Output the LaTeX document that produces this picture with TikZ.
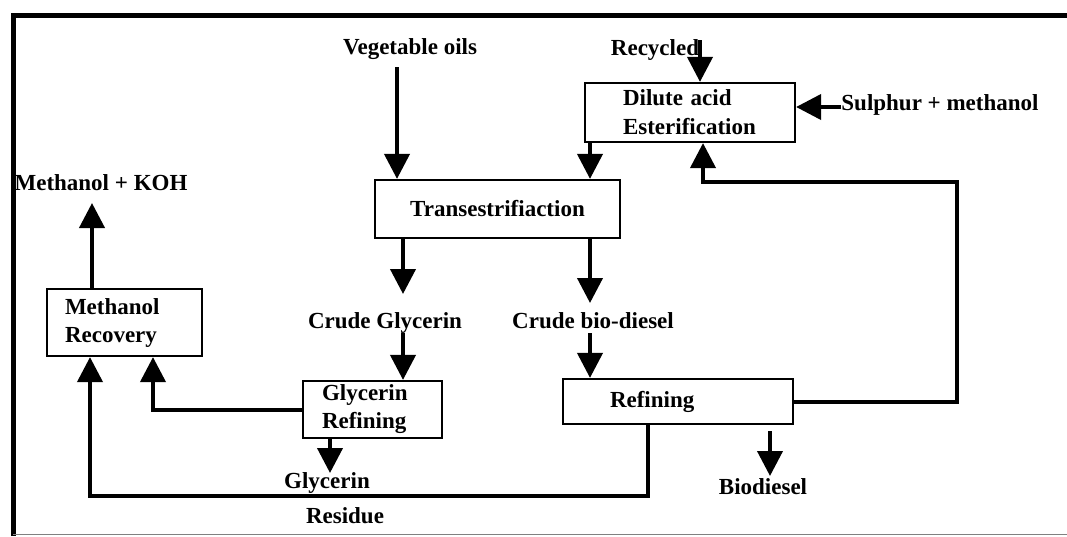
\documentclass[tikz,border=0pt]{standalone}
\usepackage{fontspec}
\setmainfont{Liberation Serif}
\usetikzlibrary{arrows.meta}
\begin{document}
\begin{tikzpicture}[x=1pt,y=-1pt,
  lbl/.style={font=\bfseries\fontsize{23}{28}\selectfont, inner sep=0pt, anchor=base},
  box/.style={draw, line width=2.2pt, inner sep=0pt, font=\bfseries\fontsize{23}{28}\selectfont},
  arr/.style={line width=4pt, -{Triangle[width=25pt,length=25pt]}},
  wire/.style={line width=4pt}]
\useasboundingbox (0,0) rectangle (1067,536);
\fill[white] (0,0) rectangle (1067,536);
% frame
\draw[line width=5pt] (13,536) -- (13,15) -- (1067,15);
\draw[gray, line width=1pt] (13,534) -- (1067,534);

% boxes
\node[box, minimum width=210pt, minimum height=59pt, text width=134pt, align=left, font=\bfseries\fontsize{23}{30}\selectfont] (dil) at (690,112.5) {Dilute acid\\[-1pt]\rule{0pt}{0pt}Esterification};
\node[box, minimum width=245pt, minimum height=58pt] (trans) at (497.5,209) {Transestrifiaction};
\node[box, minimum width=155pt, minimum height=67pt, text width=119pt, align=left] (mr) at (124.5,322.5) {Methanol\\Recovery};
\node[box, minimum width=139pt, minimum height=57pt, text width=101pt, align=left] (gr) at (372.5,409.5) {Glycerin\\Refining};
\node[box, minimum width=230pt, minimum height=45pt, text width=136pt, align=left] (ref) at (678,401.5) {Refining};

% labels
\node[lbl] (veg) at (410,54) {Vegetable oils};
\node[lbl] (rec) at (655,55) {Recycled};
\node[lbl] (sul) at (940,110) {Sulphur + methanol};
\node[lbl] (mkoh) at (101,190) {Methanol + KOH};
\node[lbl] (cgly) at (385,328) {Crude Glycerin};
\node[lbl] (cbio) at (593,328) {Crude bio-diesel};
\node[lbl] (gly) at (327,488) {Glycerin};
\node[lbl] (res) at (345,523) {Residue};
\node[lbl] (bio) at (763,494) {Biodiesel};

% helper x positions
\coordinate (xv) at (397,67);
\coordinate (xr) at (700,40);
\coordinate (xs) at (840,107);
\coordinate (xd) at (590,0);
\coordinate (xg) at (403,0);
\coordinate (xb) at (770,0);
\coordinate (xgl) at (330,0);
\coordinate (xm1) at (90,0);
\coordinate (xm2) at (153,0);
\coordinate (xm3) at (92,0);
\coordinate (xrs) at (648,0);
\coordinate (xf) at (703,0);
\coordinate (cr) at (957,182);

% connectors
\draw[arr] (xv) -- (xv |- trans.north);
\draw[arr] (xr) -- (xr |- dil.north);
\draw[wire] (sul.west |- xs) -- (xs);
\draw[arr] (xs) -- (xs -| dil.east);
\draw[arr] (xd |- dil.south) -- (xd |- trans.north);
\draw[arr] (xg |- trans.south) -- (403,294);
\draw[arr] (xd |- trans.south) -- (590,303);
\draw[arr] (403,333) -- (xg |- gr.north);
\draw[arr] (590,333) -- (xd |- ref.north);
\draw[arr] (xb |- 0,431) -- (770,476);
\draw[arr] (xgl |- gr.south) -- (330,473);
\draw[arr] (gr.west) -| (xm2 |- mr.south);
\draw[arr] (xrs |- ref.south) -- (648,496) -| (xm1 |- mr.south);
\draw[arr] (ref.east) -| (cr) -| (xf |- dil.south);
\draw[arr] (xm3 |- mr.north) -- (92,203);
\end{tikzpicture}
\end{document}
